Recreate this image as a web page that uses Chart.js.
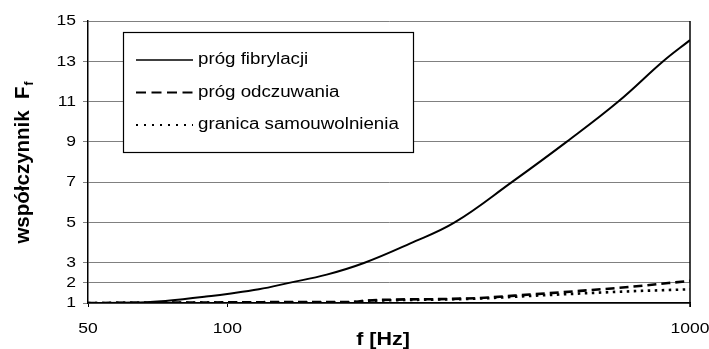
<!DOCTYPE html>
<html>
<head>
<meta charset="utf-8">
<script src="https://cdn.jsdelivr.net/npm/chart.js@4/dist/chart.umd.min.js"></script>
<style>
html,body{margin:0;padding:0;background:#fff;}
#wrap{width:709px;height:349px;position:relative;}
</style>
</head>
<body>
<div id="wrap"><canvas id="c" width="709" height="349"></canvas></div>
<script>
// Data
const freqFibr = [50, 63, 72, 81, 90, 100, 117, 136, 164, 198, 248, 310, 412, 541, 700, 875, 1000];
const progFibrylacji = [1.0, 1.02, 1.09, 1.2, 1.32, 1.45, 1.68, 2.0, 2.41, 3.0, 3.95, 5.0, 7.0, 9.0, 11.0, 13.0, 14.05];
const freqLow = [50, 100, 150, 185, 200, 232, 300, 351, 450, 578, 741, 1000];
const progOdczuwania = [1.0, 1.03, 1.05, 1.05, 1.12, 1.17, 1.2, 1.25, 1.42, 1.6, 1.8, 2.1];
const granicaSamouwolnienia = [1.0, 1.02, 1.03, 1.04, 1.1, 1.14, 1.18, 1.22, 1.35, 1.47, 1.58, 1.68];
const xTicks = [50, 100, 1000];
const yTicks = [1, 2, 3, 5, 7, 9, 11, 13, 15];
const seriesNames = ['próg fibrylacji', 'próg odczuwania', 'granica samouwolnienia'];
const yTitle = 'współczynnik  F';
const yTitleSub = 'f';
const xTitle = 'f [Hz]';

const FONT = 'Arial, "Liberation Sans", sans-serif';
const STRETCH = 1.13;
const toPts = (xs, ys) => xs.map((x, i) => ({x: x, y: ys[i]}));

function stretchText(ctx, text, x, y, align) {
  ctx.save();
  ctx.translate(x, y);
  ctx.scale(STRETCH, 1);
  ctx.textAlign = align;
  ctx.fillText(text, 0, 0);
  ctx.restore();
}

const extras = {
  id: 'extras',
  afterDraw(chart) {
    const ctx = chart.ctx;
    const a = chart.chartArea;
    const xs = chart.scales.x, ys = chart.scales.y;
    ctx.save();
    // right border
    ctx.strokeStyle = '#000';
    ctx.lineWidth = 1.5;
    ctx.beginPath();
    ctx.moveTo(a.right, a.top);
    ctx.lineTo(a.right, a.bottom + 4);
    ctx.stroke();

    // tick labels
    ctx.fillStyle = '#000';
    ctx.font = '15.5px ' + FONT;
    ctx.textBaseline = 'middle';
    yTicks.forEach(v => stretchText(ctx, String(v), a.left - 12, ys.getPixelForValue(v), 'right'));
    xTicks.forEach(v => stretchText(ctx, String(v), xs.getPixelForValue(v), a.bottom + 26, 'center'));

    // legend box
    const bx = a.left + 35, by = a.top + 11, bw = 290, bh = 120;
    ctx.fillStyle = '#fff';
    ctx.fillRect(bx, by, bw, bh);
    ctx.strokeStyle = '#000';
    ctx.lineWidth = 1.2;
    ctx.strokeRect(bx + 0.5, by + 0.5, bw, bh);
    const legendDash = [[], [10, 5.5], [2, 6]];
    chart.data.datasets.forEach((ds, i) => {
      const yy = by + 28 + i * 32.5;
      ctx.strokeStyle = ds.borderColor;
      ctx.lineWidth = i === 0 ? 1.5 : 2;
      ctx.setLineDash(legendDash[i]);
      ctx.beginPath();
      ctx.moveTo(bx + 13, yy);
      ctx.lineTo(bx + 70, yy);
      ctx.stroke();
      ctx.setLineDash([]);
      ctx.fillStyle = '#000';
      ctx.font = '16px ' + FONT;
      ctx.textBaseline = 'middle';
      ctx.save();
      ctx.translate(bx + 75, yy);
      ctx.scale(1.17, 1);
      ctx.textAlign = 'left';
      ctx.fillText(ds.label, 0, 0);
      ctx.restore();
    });

    // y title with subscript
    ctx.save();
    ctx.translate(23, (a.top + a.bottom) / 2 + 1);
    ctx.rotate(-Math.PI / 2);
    ctx.fillStyle = '#000';
    ctx.font = 'bold 20.5px ' + FONT;
    ctx.textBaseline = 'middle';
    const w1 = ctx.measureText(yTitle).width;
    ctx.font = 'bold 12px ' + FONT;
    const w2 = ctx.measureText(yTitleSub).width;
    const start = -(w1 + w2) / 2;
    ctx.font = 'bold 20.5px ' + FONT;
    ctx.textAlign = 'left';
    ctx.fillText(yTitle, start, 0);
    ctx.font = 'bold 12px ' + FONT;
    ctx.fillText(yTitleSub, start + w1 + 1, 7);
    ctx.restore();

    // x title
    ctx.fillStyle = '#000';
    ctx.font = 'bold 19px ' + FONT;
    ctx.textBaseline = 'middle';
    stretchText(ctx, xTitle, (a.left + a.right) / 2 - 6, 340, 'center');
    ctx.restore();
  }
};

new Chart(document.getElementById('c'), {
  type: 'line',
  data: {
    datasets: [
      {label: seriesNames[0], data: toPts(freqFibr, progFibrylacji), borderColor: '#000', borderWidth: 2, pointRadius: 0, tension: 0.4, fill: false},
      {label: seriesNames[1], data: toPts(freqLow, progOdczuwania), borderColor: '#000', borderWidth: 2.6, borderDash: [9, 5], pointRadius: 0, cubicInterpolationMode: 'monotone', fill: false},
      {label: seriesNames[2], data: toPts(freqLow, granicaSamouwolnienia), borderColor: '#000', borderWidth: 2.6, borderDash: [2.5, 4.5], pointRadius: 0, cubicInterpolationMode: 'monotone', fill: false}
    ]
  },
  options: {
    responsive: false,
    animation: false,
    devicePixelRatio: 1,
    layout: {padding: {left: 0, right: 19, top: 21, bottom: 0}},
    plugins: {legend: {display: false}, tooltip: {enabled: false}},
    scales: {
      x: {
        type: 'logarithmic',
        min: 50, max: 1000,
        afterBuildTicks(s) { s.ticks = xTicks.map(v => ({value: v})); },
        afterFit(s) { s.height = 46; },
        grid: {drawOnChartArea: false, drawTicks: true, tickLength: 4, color: '#000', lineWidth: 1},
        border: {color: '#000', width: 1.5},
        ticks: {display: false}
      },
      y: {
        type: 'linear',
        min: 1, max: 15,
        afterBuildTicks(s) { s.ticks = yTicks.map(v => ({value: v})); },
        afterFit(s) { s.width = 88; },
        grid: {color: '#808080', lineWidth: 1, drawTicks: true, tickLength: 5},
        border: {color: '#000', width: 1.5},
        ticks: {display: false}
      }
    }
  },
  plugins: [extras]
});
</script>
</body>
</html>
